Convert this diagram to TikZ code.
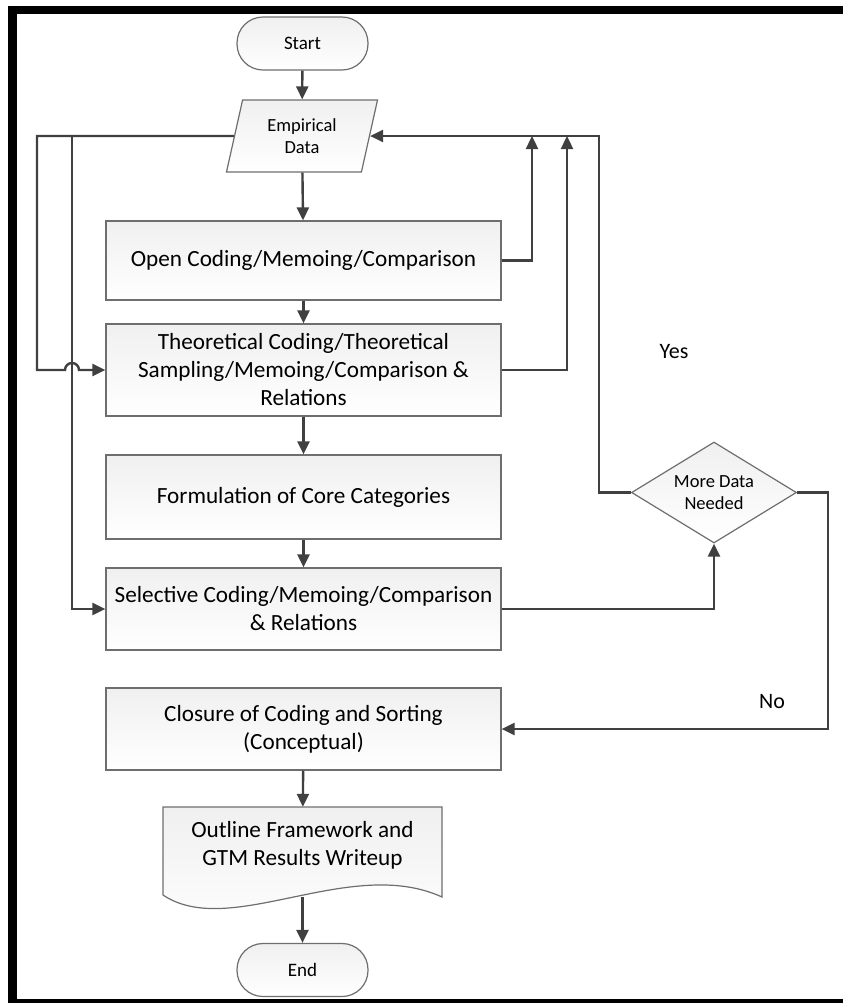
\documentclass[tikz,border=0pt]{standalone}
\usepackage{fontspec}
\setmainfont{Carlito}
\usetikzlibrary{shapes.geometric,arrows.meta}
\definecolor{linegray}{HTML}{404040}
\definecolor{boxedge}{HTML}{6E6E6E}
\tikzset{
  box/.style={draw=boxedge,line width=1.2pt,top color=gray!12,bottom color=white,
    minimum width=395pt,align=center,font=\fontsize{23.2}{28}\selectfont},
  term/.style={draw=boxedge,line width=1.2pt,top color=gray!12,bottom color=white,
    rounded corners=26pt,minimum width=131pt,minimum height=53pt,font=\fontsize{19}{22}\selectfont},
  flow/.style={draw=linegray,line width=2.4pt,-{Triangle[length=13pt,width=12pt]}}
}
\begin{document}
\begin{tikzpicture}[x=1pt,y=-1pt]
\useasboundingbox (0,0) rectangle (843,1005);
% frame
\fill (8,6) rectangle (843,14);
\fill (8,6) rectangle (17,1003);
\fill (8,999) rectangle (843,1003);

\node[term] (start) at (302.5,43.5) {Start};
\node[draw=boxedge,line width=1.2pt,top color=gray!12,bottom color=white,trapezium,
  trapezium left angle=75,trapezium right angle=105,trapezium stretches=true,
  minimum width=152pt,minimum height=72pt,inner sep=0pt,align=center,
  font=\fontsize{18.5}{22}\selectfont] (emp) at (302,136) {Empirical\\Data};
\node[box,minimum height=79pt] (open) at (303.5,260.5) {Open Coding/Memoing/Comparison};
\node[box,minimum height=92pt] (theo) at (303.5,370) {Theoretical Coding/Theoretical\\Sampling/Memoing/Comparison \&\\Relations};
\node[box,minimum height=84pt] (form) at (303.5,497) {Formulation of Core Categories};
\node[box,minimum height=82pt] (sel) at (303.5,609) {Selective Coding/Memoing/Comparison\\\& Relations};
\node[box,minimum height=82pt] (clos) at (303.5,729) {Closure of Coding and Sorting\\(Conceptual)};
\node[draw=boxedge,line width=1.2pt,top color=gray!12,bottom color=white,diamond,
  aspect=1.63,minimum width=165pt,minimum height=101pt,inner sep=0pt,align=center,
  font=\fontsize{18.5}{22}\selectfont] (more) at (714,492.5) {More Data\\Needed};

% document shape
\draw[draw=boxedge,line width=1.2pt,top color=gray!12,bottom color=white]
  (163,807) -- (442,807) -- (442,897) .. controls (350,855) and (230,940) .. (163,895) -- cycle;
\node[align=center,minimum width=279pt,minimum height=76pt,inner sep=0pt,
  font=\fontsize{23.2}{28}\selectfont] (doc) at (302.5,845) {Outline Framework and\\GTM Results Writeup};
\node[term] (end) at (302.5,970) {End};

\node[font=\fontsize{22}{26}\selectfont] (yes) at (674,352) {Yes};
\node[font=\fontsize{22}{26}\selectfont] (no) at (772,702) {No};

% main line
\draw[flow] (start) -- (emp);
\draw[flow] (emp) -- (open);
\draw[flow] (open) -- (theo);
\draw[flow] (theo) -- (form);
\draw[flow] (form) -- (sel);
\draw[flow] (clos) -- (doc);
\draw[flow] ([yshift=-14pt]doc.south) -- (end);

% loops back to the data
\coordinate (fbA) at (532,136);
\coordinate (fbB) at (567,136);
\coordinate (jn) at (72,136);
\draw[flow] (emp.west) -- (37,136) -- (37,370) -- (65,370)
  arc[start angle=180,end angle=0,radius=7pt] -- (theo.west);
\draw[flow] (jn) |- (sel.west);
\draw[flow] (open.east) -| (fbA);
\draw[flow] (theo.east) -| (fbB);
\draw[flow] (more.west) -- ++(-32,0) |- (emp.east);
\draw[flow] (sel.east) -| (more.south);
\draw[flow] (more.east) -- ++(31,0) |- (clos.east);
\end{tikzpicture}
\end{document}
